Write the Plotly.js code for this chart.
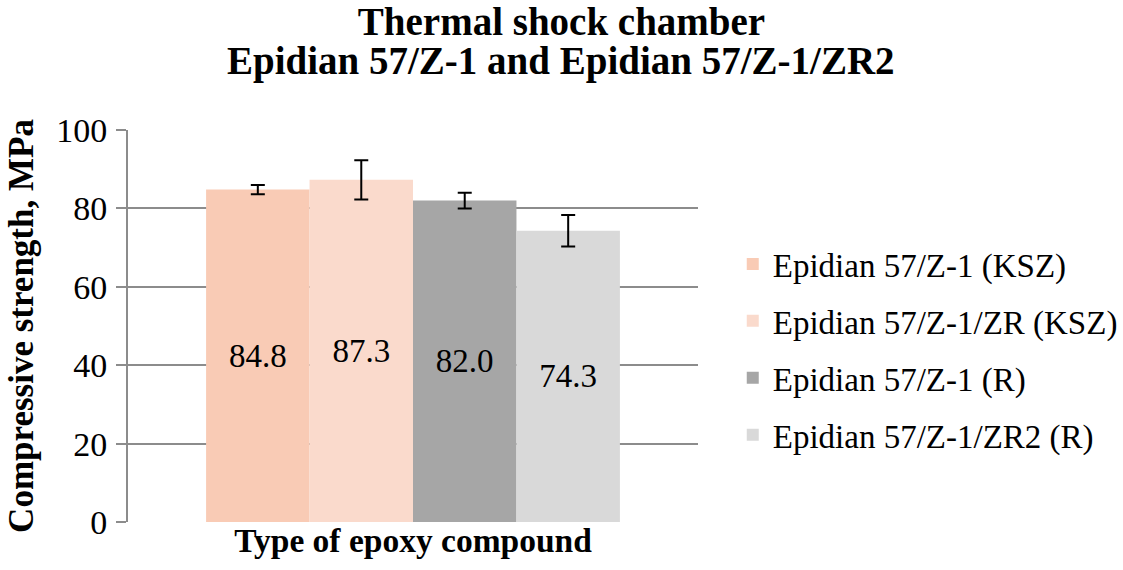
<!DOCTYPE html>
<html>
<head>
<meta charset="utf-8">
<script src="https://cdn.plot.ly/plotly-3.0.1.min.js"></script>
<style>
  html, body { margin: 0; padding: 0; background: #fff; }
  #myDiv { width: 1123px; height: 570px; }
</style>
</head>
<body>
<div id="myDiv"></div>
<script>
// データ
const category   = ['Type of epoxy compound']
const names      = ['Epidian 57/Z-1 (KSZ)', 'Epidian 57/Z-1/ZR (KSZ)', 'Epidian 57/Z-1 (R)', 'Epidian 57/Z-1/ZR2 (R)']
const strengths  = [84.8, 87.3, 82.0, 74.3]
const errors     = [1.2, 5.0, 2.0, 4.0]
const colors     = ['rgb(249,203,181)', 'rgb(250,218,204)', 'rgb(166,166,166)', 'rgb(217,217,217)']

const font = 'Liberation Serif, Times New Roman, serif'

let data = []
for(let i = 0; i < names.length; i++) {
	data.push({
		x: category,
		y: [strengths[i]],
		name: names[i],
		legendgroup: 'g' + i,
		type: 'bar',
		marker: {color: colors[i]},
		error_y: {type: 'data', array: [errors[i]], visible: true, color: '#000', thickness: 2, width: 7},
		texttemplate: '%{y:.1f}',
		textposition: 'inside',
		insidetextanchor: 'middle',
		textfont: {family: font, size: 33, color: '#000'},
		hoverinfo: 'skip'
	})
}

const layout = {
	width: 1123,
	height: 570,
	paper_bgcolor: '#fff',
	plot_bgcolor: '#fff',
	font: {family: font, color: '#000'},
	// タイトル1行目
	title: {
		text: '<b>Thermal shock chamber</b>',
		font: {family: font, size: 39, color: '#000'},
		x: 0.5, xref: 'container', xanchor: 'center',
		y: 0.963, yref: 'container', yanchor: 'middle'
	},
	// タイトル2行目
	annotations: [{
		text: '<b>Epidian 57/Z-1 and Epidian 57/Z-1/ZR2</b>',
		font: {family: font, size: 39, color: '#000'},
		showarrow: false,
		xref: 'paper', x: (561 - 128) / 570, xanchor: 'center',
		yref: 'paper', y: 1.175, yanchor: 'middle'
	}],
	margin: {l: 128, r: 425, t: 130, b: 48},
	barmode: 'group',
	bargap: 0.274,
	bargroupgap: 0,
	showlegend: true,
	legend: {
		xref: 'container', x: 0.6525, xanchor: 'left',
		y: 0.44, yanchor: 'middle',
		font: {family: font, size: 33, color: '#000'},
		traceorder: 'grouped', tracegroupgap: 11,
		itemclick: false
	},
	xaxis: {
		showticklabels: false,
		showgrid: false,
		zeroline: false,
		showline: false,
		title: {text: '<b>Type of epoxy compound</b>', font: {family: font, size: 33.5, color: '#000'}, standoff: 6}
	},
	yaxis: {
		range: [0, 100],
		dtick: 20,
		showgrid: true,
		gridcolor: '#8c8c8c',
		gridwidth: 2,
		zeroline: false,
		showline: true,
		linecolor: '#8c8c8c',
		linewidth: 2,
		ticks: 'outside',
		ticklen: 10,
		tickwidth: 2,
		tickcolor: '#8c8c8c',
		ticklabelstandoff: 2,
		tickfont: {family: font, size: 34, color: '#000'},
		title: {text: '<b>Compressive strength, MPa</b>', font: {family: font, size: 35, color: '#000'}, standoff: 12}
	}
}

const config = {
	displayModeBar: false,
	staticPlot: true
}

Plotly.newPlot('myDiv', data, layout, config)
</script>
</body>
</html>
